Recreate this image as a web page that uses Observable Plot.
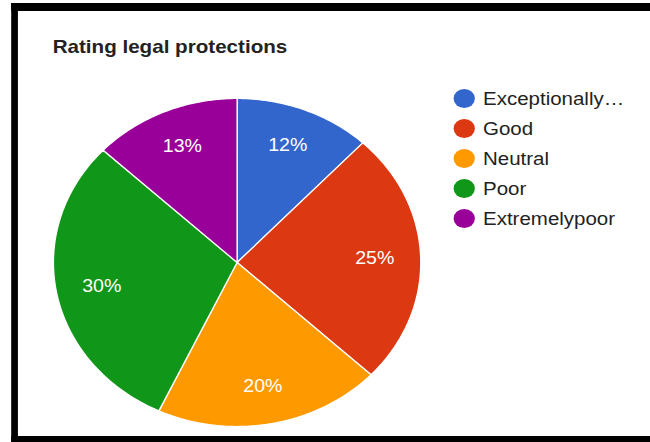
<!DOCTYPE html>
<html>
<head>
<meta charset="utf-8">
<script src="https://cdn.jsdelivr.net/npm/d3@7"></script>
<script src="https://cdn.jsdelivr.net/npm/@observablehq/plot@0.6"></script>
<style>
  html, body { margin: 0; padding: 0; background: #fff; overflow: hidden; width: 650px; height: 442px; }
  #wrap { position: absolute; left: 0; top: 0; width: 580.4px; height: 442px; transform: scaleX(1.12); transform-origin: 0 0; font-family: Arial, "Liberation Sans", sans-serif; }
  #frame { position: absolute; left: 9.8px; top: 3px; width: 640px; height: 439px; box-sizing: border-box; border-style: solid; border-color: #000; border-width: 8px 0 6px 6.3px; }
  #title { position: absolute; left: 47px; top: 37.6px; font-size: 18.4px; line-height: 18px; font-weight: bold; color: #222; white-space: nowrap; }
  #chart { position: absolute; left: 0; top: 0; }
  #legend { position: absolute; left: 405.3px; top: 89.8px; }
  .row { display: flex; align-items: center; height: 18px; margin-bottom: 12px; font-size: 18.3px; line-height: 18px; color: #222; white-space: nowrap; }
  .sw { width: 18.8px; height: 18.8px; border-radius: 50%; margin-right: 7.2px; flex: none; }
</style>
</head>
<body>
<div id="wrap">
  <div id="frame"></div>
  <div id="title"></div>
  <div id="chart"></div>
  <div id="legend"></div>
</div>
<script>
const chartTitle = "Rating legal protections";
const categories = ["Exceptionally…", "Good", "Neutral", "Poor", "Extremelypoor"];
const values = [12, 25, 20, 30, 13];
const colors = ["#3366cc", "#dc3912", "#ff9900", "#109618", "#990099"];

const total = d3.sum(values);
const points = [];
const labels = [];
let cum = 0;
values.forEach((v, i) => {
  const a0 = cum / total * 2 * Math.PI;
  const a1 = (cum + v) / total * 2 * Math.PI;
  points.push({cat: categories[i], x: 0, y: 0});
  const n = Math.max(2, Math.ceil((a1 - a0) / (Math.PI / 180)));
  for (let k = 0; k <= n; k++) {
    const a = a0 + (a1 - a0) * k / n;
    points.push({cat: categories[i], x: Math.sin(a), y: Math.cos(a)});
  }
  const am = (a0 + a1) / 2;
  labels.push({cat: categories[i], x: 0.75 * Math.sin(am), y: 0.77 * Math.cos(am), text: Math.round(v / total * 100) + "%"});
  cum += v;
});

const W = 580.4, H = 442;
const cx = 211.2, cy = 262, r = 164;

const plot = Plot.plot({
  width: W,
  height: H,
  marginLeft: cx - r,
  marginRight: W - (cx + r),
  marginTop: cy - r,
  marginBottom: H - (cy + r),
  x: {domain: [-1, 1], axis: null},
  y: {domain: [-1, 1], axis: null},
  color: {domain: categories, range: colors},
  style: {background: "transparent", fontFamily: "Arial, 'Liberation Sans', sans-serif", overflow: "visible"},
  marks: [
    Plot.line(points, {x: "x", y: "y", z: "cat", fill: "cat", stroke: "white", strokeWidth: 1.2, curve: "linear-closed"}),
    Plot.text(labels, {x: "x", y: "y", text: "text", fill: "white", fontSize: 17.5})
  ]
});
document.getElementById("chart").appendChild(plot);
document.getElementById("title").textContent = chartTitle;

const legend = document.getElementById("legend");
categories.forEach((c, i) => {
  const row = document.createElement("div");
  row.className = "row";
  const sw = document.createElement("div");
  sw.className = "sw";
  sw.style.background = colors[i];
  const t = document.createElement("span");
  t.textContent = c;
  row.appendChild(sw);
  row.appendChild(t);
  legend.appendChild(row);
});
</script>
</body>
</html>
